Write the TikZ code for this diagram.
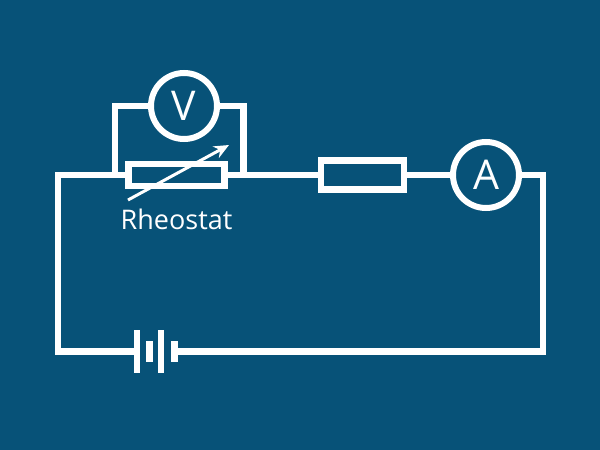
\documentclass[tikz,border=0pt]{standalone}
\usepackage{fontspec}
\setmainfont{Open Sans}
\usetikzlibrary{arrows.meta,backgrounds}
\definecolor{bgblue}{RGB}{7,82,120}
\tikzset{
  wire/.style={draw=white,line width=6.5pt,line join=miter},
  box/.style={draw=white,fill=bgblue,line width=6.5pt,rectangle,inner sep=0pt,outer sep=0pt},
  meter/.style={draw=white,fill=bgblue,line width=6pt,circle,minimum size=66pt,inner sep=0pt,outer sep=0pt,text=white,font=\fontsize{41}{41}\selectfont},
  longplate/.style={fill=white,rectangle,minimum width=6.5pt,minimum height=43pt,inner sep=0pt,outer sep=0pt},
  shortplate/.style={fill=white,rectangle,minimum width=7pt,minimum height=21pt,inner sep=0pt,outer sep=0pt},
  slider/.style={draw=white,line width=3pt,-{Stealth[length=15pt,width=13pt]}},
  caption/.style={text=white,font=\fontsize{27}{27}\selectfont,inner sep=0pt,anchor=base west}
}
\begin{document}
\begin{tikzpicture}[x=1pt,y=-1pt]
\useasboundingbox (0,0) rectangle (600,450);
% component nodes
\node[box,minimum width=96pt,minimum height=22pt] (rh) at (176.5,175) {};
\node[box,minimum width=83pt,minimum height=29pt] (res) at (362.5,175) {};
\node[meter] (V) at (184,106) {V};
\node[meter] (A) at (486,175) {A};
\node[longplate] (b1) at (137,351.5) {};
\node[shortplate] (b2) at (149.5,351.5) {};
\node[longplate] (b3) at (161,351.5) {};
\node[shortplate] (b4) at (174,351.5) {};
\coordinate (tl) at (58,175);
\coordinate (bl) at (58,351.5);
\coordinate (br) at (543,351.5);
\coordinate (tr) at (543,175);
\coordinate (vl) at (115,106);
\coordinate (vr) at (243.5,106);
\coordinate (rl) at (115,175);
\coordinate (rr) at (243.5,175);
\coordinate (st) at (128,200);
\coordinate (sh) at (229,145);
% wires behind the components
\begin{scope}[on background layer]
\fill[bgblue] (0,0) rectangle (600,450);
\draw[wire] (rh.west) -- (tl) -- (bl) -- (b1.west);
\draw[wire] (b4.east) -- (br) -- (tr) -- (A.east);
\draw[wire] (rh.east) -- (res.west);
\draw[wire] (res.east) -- (A.west);
\draw[wire] (rl) -- (vl) -- (V.west);
\draw[wire] (rr) -- (vr) -- (V.east);
\end{scope}
\draw[slider] (st) -- (sh);
\node[caption] (lab) at (120.5,229) {Rheostat};
\end{tikzpicture}
\end{document}
